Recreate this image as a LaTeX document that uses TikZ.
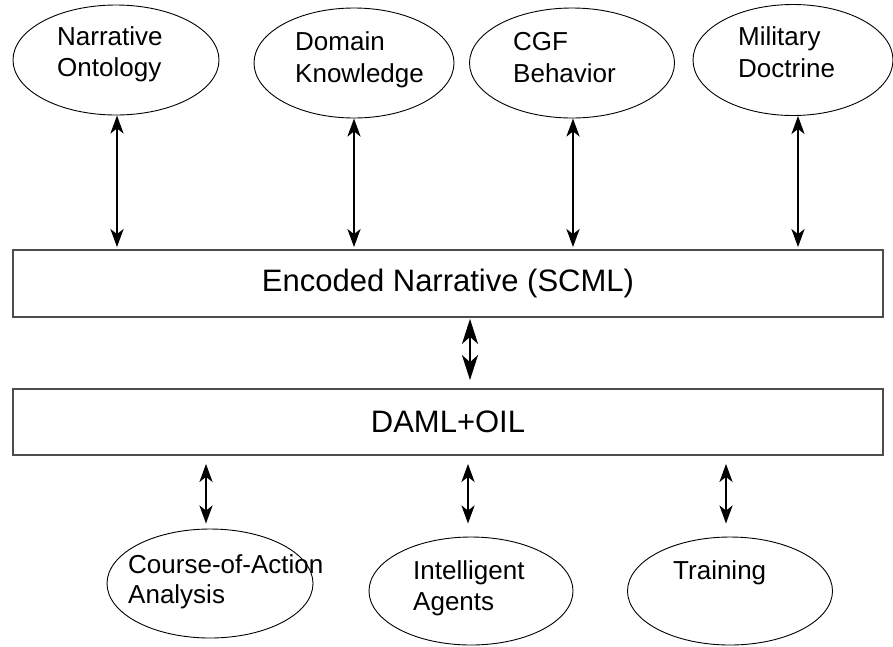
\documentclass[tikz,border=0pt]{standalone}
\usepackage{fontspec}
\setmainfont{Liberation Sans}
\usetikzlibrary{shapes.geometric,arrows.meta}

\tikzset{
  topic/.style={draw=black, line width=0.9pt, ellipse, inner sep=0pt},
  layer/.style={draw=black!70, line width=1.8pt, minimum width=870pt, inner sep=0pt,
                font=\fontsize{31}{36}\selectfont, text=black},
  lbl/.style={anchor=base west, inner sep=0pt, font=\fontsize{26}{30}\selectfont, text=black},
  biarrow/.style={line width=2.6pt, {Stealth[length=18pt,width=13pt,inset=5pt]}-{Stealth[length=18pt,width=13pt,inset=5pt]}},
  bigarrow/.style={line width=2.4pt, {Stealth[length=25pt,width=16pt,inset=7pt]}-{Stealth[length=25pt,width=16pt,inset=7pt]}}
}

\begin{document}
\begin{tikzpicture}[x=1pt, y=-1pt]
\useasboundingbox[fill=white] (0,0) rectangle (893,646);

% knowledge sources
\node[topic, minimum width=206pt, minimum height=110pt] (onto) at (116,60) {};
\node[topic, minimum width=200pt, minimum height=110pt] (dom)  at (354,63) {};
\node[topic, minimum width=205pt, minimum height=110pt] (cgf)  at (572,63) {};
\node[topic, minimum width=200pt, minimum height=111pt] (mil)  at (793,60) {};

\node[lbl] (onto1) at (57,45) {Narrative};
\node[lbl] (onto2) at (57,76) {Ontology};
\node[lbl] (dom1) at (295,50) {Domain};
\node[lbl] (dom2) at (295,82) {Knowledge};
\node[lbl] (cgf1) at (513,50) {CGF};
\node[lbl] (cgf2) at (513,82) {Behavior};
\node[lbl] (mil1) at (738,45) {Military};
\node[lbl] (mil2) at (738,77) {Doctrine};

% layers
\node[layer, minimum height=67pt] (enc)  at (448,283.5) {Encoded Narrative (SCML)};
\node[layer, minimum height=66pt] (daml) at (448,422) {DAML+OIL};

% applications
\node[topic, minimum width=206pt, minimum height=109pt] (coa)   at (210,583.5) {};
\node[topic, minimum width=204pt, minimum height=108pt] (agent) at (471,591) {};
\node[topic, minimum width=205pt, minimum height=108pt] (train) at (730,591) {};

\node[lbl] (coa1) at (128,573) {Course-of-Action};
\node[lbl] (coa2) at (128,603) {Analysis};
\node[lbl] (agent1) at (413,579) {Intelligent};
\node[lbl] (agent2) at (413,610) {Agents};
\node[lbl] (train1) at (673,579) {Training};

% links between sources and the encoded narrative
\draw[biarrow, shorten >=2pt] ([xshift=1]onto.south) -- ([xshift=1]onto.south |- enc.north);
\draw[biarrow, shorten >=2pt] (dom.south) -- (dom.south |- enc.north);
\draw[biarrow, shorten >=2pt] ([xshift=1]cgf.south) -- ([xshift=1]cgf.south |- enc.north);
\draw[biarrow, shorten >=2pt] ([xshift=5]mil.south) -- ([xshift=5]mil.south |- enc.north);

% encoded narrative <-> DAML+OIL
\draw[bigarrow, shorten <=1pt, shorten >=8pt] ([xshift=22]enc.south) -- ([xshift=22]enc.south |- daml.north);

% DAML+OIL <-> applications
\draw[biarrow, shorten <=8pt, shorten >=5pt] ([xshift=-4]coa.north |- daml.south) -- ([xshift=-4]coa.north);
\draw[biarrow, shorten <=8pt, shorten >=13pt] ([xshift=-3]agent.north |- daml.south) -- ([xshift=-3]agent.north);
\draw[biarrow, shorten <=8pt, shorten >=13pt] ([xshift=-4]train.north |- daml.south) -- ([xshift=-4]train.north);
\end{tikzpicture}
\end{document}
